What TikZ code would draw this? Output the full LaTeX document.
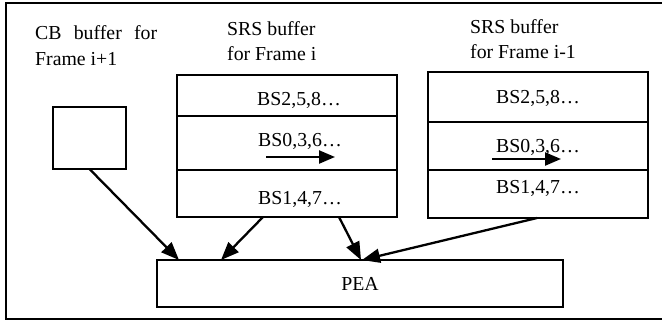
\documentclass[tikz,border=0pt]{standalone}
\usepackage{fontspec}
\setmainfont{Liberation Serif}
\usetikzlibrary{arrows.meta,calc}
\begin{document}
\begin{tikzpicture}[x=1pt,y=-1pt,
  box/.style={draw,line width=1.9pt,inner sep=0pt,outer sep=0pt},
  txt/.style={font=\fontsize{19.8}{23}\selectfont,inner sep=0pt,anchor=base west},
  conn/.style={line width=2.3pt,-{Triangle[length=18pt,width=14pt]}},
  inarrow/.style={line width=2.3pt,-{Triangle[length=16pt,width=13pt]}}
]
\useasboundingbox (0,0) rectangle (662,322);
% outer frame (right edge lies beyond the picture)
\node[box,line width=2.1pt,minimum width=660pt,minimum height=316pt] (frame) at (336,161) {};

% labels
\node[txt] (cbla) at (35,39) {\makebox[122pt][s]{CB buffer for}};
\node[txt] (cblb) at (35,65) {Frame i+1};
\node[txt] (srsa) at (227,35) {SRS buffer};
\node[txt] (srsb) at (227,60) {for Frame i};
\node[txt] (srsc) at (470,33) {SRS buffer};
\node[txt] (srsd) at (470,58) {for Frame i-1};

% CB buffer
\node[box,minimum width=73pt,minimum height=62pt] (cb) at (89.5,138) {};

% SRS buffer for frame i
\node[box,minimum width=220pt,minimum height=41pt] (mt) at (287,95.5) {};
\node[box,minimum width=220pt,minimum height=54pt] (mm) at (287,143) {};
\node[box,minimum width=220pt,minimum height=47pt] (mb) at (287,193.5) {};
\node[txt] (mtt) at (257,105) {BS2,5,8…};
\node[txt] (mmt) at (258,146) {BS0,3,6…};
\node[txt] (mbt) at (258,204) {BS1,4,7…};

% SRS buffer for frame i-1
\node[box,minimum width=220pt,minimum height=50pt] (rt) at (538,97) {};
\node[box,minimum width=220pt,minimum height=48pt] (rm) at (538,146) {};
\node[box,minimum width=220pt,minimum height=48pt] (rb) at (538,194) {};
\node[txt] (rtt) at (496,103) {BS2,5,8…};
\node[txt] (rmt) at (496,152) {BS0,3,6…};
\node[txt] (rbt) at (496,193) {BS1,4,7…};

% PEA
\node[box,minimum width=406pt,minimum height=47pt,font=\fontsize{19.8}{23}\selectfont] (pea) at (360,283.5) {PEA};

% inner arrows
\coordinate (ma1) at (266,157);
\coordinate (ma2) at (335,157);
\coordinate (ra1) at (492,159);
\coordinate (ra2) at (561,159);
\draw[inarrow] (ma1) -- (ma2);
\draw[inarrow] (ra1) -- (ra2);

% connectors to PEA
\draw[conn] (cb.south) -- ([xshift=-181pt]pea.north);
\draw[conn] ([xshift=-24pt]mb.south) -- ([xshift=-139pt]pea.north);
\draw[conn] ([xshift=52pt]mb.south) -- ([xshift=1pt]pea.north);
\draw[conn] ([xshift=-1pt]rb.south) -- ([xshift=2pt]pea.north);
\end{tikzpicture}
\end{document}
